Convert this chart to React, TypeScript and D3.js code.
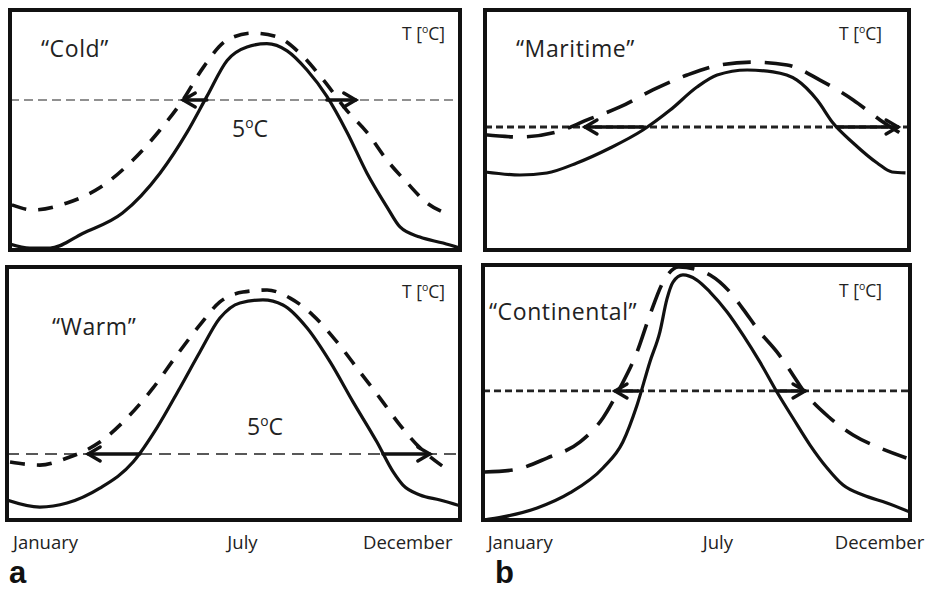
import React from "react";
import * as d3 from "d3";

type Pt = [number, number];

// month (0..12 across the box), relative temperature (0..100 of box height)
const coldSolid: Pt[] = [
  [0, 2.5], [0.53, 0.8], [1.07, 0.8], [1.95, 7], [3.0, 15.4], [4.0, 32], [4.72, 49],
  [5.25, 64], [5.79, 79], [6.32, 84.6], [6.85, 86], [7.39, 83], [7.92, 75], [8.45, 64],
  [8.99, 49], [9.52, 32], [10.05, 18], [10.4, 9.6], [10.93, 5.4], [11.55, 2.9], [12, 0.8],
];
const coldDashed: Pt[] = [
  [0.05, 18.8], [0.61, 16.7], [1.52, 19.6], [2.4, 26], [3.28, 37.5], [4.0, 50], [4.61, 62.5],
  [5.15, 76], [5.79, 87.5], [6.48, 90.4], [7.12, 88.8], [7.73, 82], [8.35, 71], [8.99, 58],
  [9.52, 49], [10.05, 37.5], [10.59, 28], [11.12, 19.6], [11.6, 15.4],
];
const coldThreshold = 62.5;
const coldArrows: Pt[] = [[5.25, 4.62], [8.45, 9.22]];

const warmSolid: Pt[] = [
  [0, 7.9], [0.87, 5.1], [1.59, 6.7], [2.46, 12.6], [3.34, 22.9], [3.97, 36.4], [4.58, 52.2],
  [5.11, 66.4], [5.64, 79.8], [6.17, 85.8], [6.78, 87], [7.31, 85], [7.95, 75.9], [8.56, 62.5],
  [9.17, 46.6], [9.8, 30.8], [10.23, 19], [10.49, 13.8], [10.94, 9.9], [11.47, 7.9], [12, 5.6],
];
const warmDashed: Pt[] = [
  [0.08, 22.9], [0.87, 21.7], [1.59, 24.5], [2.46, 30.8], [3.18, 40.3], [3.87, 52.2], [4.5, 65.2],
  [5.11, 77.1], [5.64, 86.2], [6.25, 90.1], [6.89, 90.9], [7.5, 87.7], [8.1, 81], [8.74, 70.4],
  [9.35, 58.5], [9.88, 48.2], [10.41, 37.5], [10.94, 28.5], [11.6, 20.6],
];
const warmThreshold = 26.1;
const warmArrows: Pt[] = [[3.52, 2.15], [9.96, 11.2]];

const maritimeSolid: Pt[] = [
  [0, 32.5], [0.99, 31.25], [1.75, 32.1], [2.6, 36.25], [3.54, 42.5], [4.47, 50], [5.24, 58.3],
  [6.0, 67.9], [6.57, 72.9], [7.42, 75], [8.15, 74.2], [8.83, 70.8], [9.4, 62.5], [9.85, 52.9],
  [10.42, 44.6], [11.1, 36.25], [11.52, 32.5], [11.9, 32.1],
];
const maritimeDashed: Pt[] = [
  [0, 48], [0.99, 47.1], [2.04, 49.2], [2.89, 54.2], [3.82, 59.6], [4.75, 66.7], [5.72, 72.9],
  [6.65, 77.1], [7.58, 78.3], [8.55, 77.1], [9.48, 70.8], [10.42, 62.5], [11.18, 54.2],
  [11.75, 48.75], [12, 46.5],
];
const maritimeThreshold = 51.25;
const maritimeArrows: Pt[] = [[4.47, 2.83], [9.96, 11.69]];

const continentalSolid: Pt[] = [
  [0, 0], [0.56, 1.2], [1.52, 4.7], [2.44, 10.6], [3.37, 20.4], [3.93, 30.6], [4.33, 45.1],
  [4.69, 62], [4.97, 73.7], [5.17, 86.7], [5.34, 93.3], [5.62, 96.1], [6.0, 94.2], [6.38, 89.4],
  [6.86, 81.6], [7.31, 72.5], [7.78, 62], [8.26, 50.2], [8.71, 40], [9.19, 29.4], [9.67, 20.4],
  [10.12, 13.7], [10.68, 9.8], [11.35, 6.7], [12, 3.1],
];
const continentalDashed: Pt[] = [
  [0.05, 18.8], [0.84, 19.6], [1.8, 24.3], [2.73, 30.6], [3.37, 40], [3.85, 51.8], [4.33, 65.9],
  [4.69, 80.4], [5.06, 93.3], [5.5, 99.2], [5.95, 98.4], [6.38, 96.1], [6.94, 89.4], [7.31, 82.7],
  [7.78, 73.7], [8.26, 65.9], [8.71, 56.9], [8.99, 51], [9.75, 40], [10.4, 33.3], [11.16, 28.2],
  [11.9, 24.3],
];
const continentalThreshold = 50.6;
const continentalArrows: Pt[] = [[4.36, 3.71], [8.26, 9.05]];

const monthLabels = ["January", "July", "December"];

type Panel = {
  box: { x: number; y: number; w: number; h: number };
  solid: Pt[];
  dashed: Pt[];
  threshold: number;
  arrows: Pt[];
  title: string;
  titlePos: [number, number];
  unitPos: [number, number];
  degPos?: [number, number];
  curveDash: string;
  refDash: string;
  refWidth: number;
};

const panels: Panel[] = [
  {
    box: { x: 10, y: 10, w: 450, h: 240 }, solid: coldSolid, dashed: coldDashed,
    threshold: coldThreshold, arrows: coldArrows, title: "\u201CCold\u201D",
    titlePos: [41, 57], unitPos: [402, 40], degPos: [232, 137],
    curveDash: "15 12", refDash: "9 5", refWidth: 1.2,
  },
  {
    box: { x: 7, y: 267, w: 453, h: 253 }, solid: warmSolid, dashed: warmDashed,
    threshold: warmThreshold, arrows: warmArrows, title: "\u201CWarm\u201D",
    titlePos: [52, 335], unitPos: [402, 298], degPos: [247, 435],
    curveDash: "15 12", refDash: "12 7", refWidth: 1.5,
  },
  {
    box: { x: 485, y: 10, w: 424, h: 240 }, solid: maritimeSolid, dashed: maritimeDashed,
    threshold: maritimeThreshold, arrows: maritimeArrows, title: "\u201CMaritime\u201D",
    titlePos: [516, 57], unitPos: [839, 40],
    curveDash: "28 14", refDash: "7 4", refWidth: 2.8,
  },
  {
    box: { x: 483, y: 265, w: 427, h: 255 }, solid: continentalSolid, dashed: continentalDashed,
    threshold: continentalThreshold, arrows: continentalArrows, title: "\u201CContinental\u201D",
    titlePos: [489, 320], unitPos: [839, 297],
    curveDash: "28 14", refDash: "7 4", refWidth: 2.8,
  },
];

const INK = "#111";
const FONT = "'Open Sans', 'DejaVu Sans', sans-serif";

function Deg({ x, y, size, prefix, suffix }: { x: number; y: number; size: number; prefix: string; suffix: string }) {
  return (
    <text x={x} y={y} fontSize={size} fontFamily={FONT} fill="#222">
      {prefix}
      <tspan fontSize={size * 0.6} dy={-size * 0.38}>o</tspan>
      <tspan dy={size * 0.38}>{suffix}</tspan>
    </text>
  );
}

function PanelView({ p, i }: { p: Panel; i: number }) {
  const { box } = p;
  const x = d3.scaleLinear().domain([0, 12]).range([box.x, box.x + box.w]);
  const y = d3.scaleLinear().domain([0, 100]).range([box.y + box.h, box.y]);
  const line = d3
    .line<Pt>()
    .x((d) => x(d[0]))
    .y((d) => y(d[1]))
    .curve(d3.curveMonotoneX);
  const ty = y(p.threshold);
  const head = 12;
  const spread = 7;

  return (
    <g>
      <defs>
        <clipPath id={`clip-${i}`}>
          <rect x={box.x} y={box.y} width={box.w} height={box.h} />
        </clipPath>
      </defs>
      <g clipPath={`url(#clip-${i})`}>
        <line
          x1={box.x} x2={box.x + box.w} y1={ty} y2={ty}
          stroke="#222" strokeWidth={p.refWidth} strokeDasharray={p.refDash}
        />
        <path d={line(p.solid) ?? ""} fill="none" stroke={INK} strokeWidth={3.2} />
        <path
          d={line(p.dashed) ?? ""} fill="none" stroke={INK} strokeWidth={3.6}
          strokeDasharray={p.curveDash}
        />
        {p.arrows.map(([from, to], k) => {
          const x0 = x(from);
          const x1 = x(to);
          const dir = Math.sign(x1 - x0);
          return (
            <g key={k} stroke={INK} strokeWidth={3.4} fill="none" strokeLinecap="round">
              <line x1={x0} x2={x1} y1={ty} y2={ty} />
              <path
                d={`M${x1 - dir * head},${ty - spread} L${x1},${ty} L${x1 - dir * head},${ty + spread}`}
                strokeLinejoin="miter"
              />
            </g>
          );
        })}
      </g>
      <rect
        x={box.x} y={box.y} width={box.w} height={box.h}
        fill="none" stroke={INK} strokeWidth={4}
      />
      <text x={p.titlePos[0]} y={p.titlePos[1]} fontSize={23} fontFamily={FONT} fill="#222" letterSpacing={0.6}>
        {p.title}
      </text>
      <Deg x={p.unitPos[0]} y={p.unitPos[1]} size={17.5} prefix="T [" suffix="C]" />
      {p.degPos && <Deg x={p.degPos[0]} y={p.degPos[1]} size={23} prefix="5" suffix="C" />}
    </g>
  );
}

function MonthAxis({ left, right, jan, jul, dec, y }: { left: number; right: number; jan: number; jul: number; dec: number; y: number }) {
  const x = d3.scaleLinear().domain([0, 12]).range([left, right]);
  const pos = [jan, jul, dec];
  const anchors = ["start", "middle", "end"];
  return (
    <g>
      {monthLabels.map((m, k) => (
        <text
          key={m} x={x(pos[k])} y={y} fontSize={18.5} fontFamily={FONT} fill="#222"
          textAnchor={anchors[k]}
        >
          {m}
        </text>
      ))}
    </g>
  );
}

export default function App() {
  return (
    <svg width={933} height={589} style={{ position: "absolute", left: 0, top: 0, background: "#fff" }}>
      {panels.map((p, i) => (
        <PanelView key={i} p={p} i={i} />
      ))}
      <MonthAxis left={10} right={460} jan={0.08} jul={6.2} dec={11.8} y={549} />
      <MonthAxis left={483} right={910} jan={0.13} jul={6.6} dec={12.4} y={549} />
      <text x={9} y={583} fontSize={31} fontWeight="bold" fontFamily="'Liberation Sans', Arial, sans-serif" fill="#111">a</text>
      <text x={495} y={583} fontSize={31} fontWeight="bold" fontFamily="'Liberation Sans', Arial, sans-serif" fill="#111">b</text>
    </svg>
  );
}
